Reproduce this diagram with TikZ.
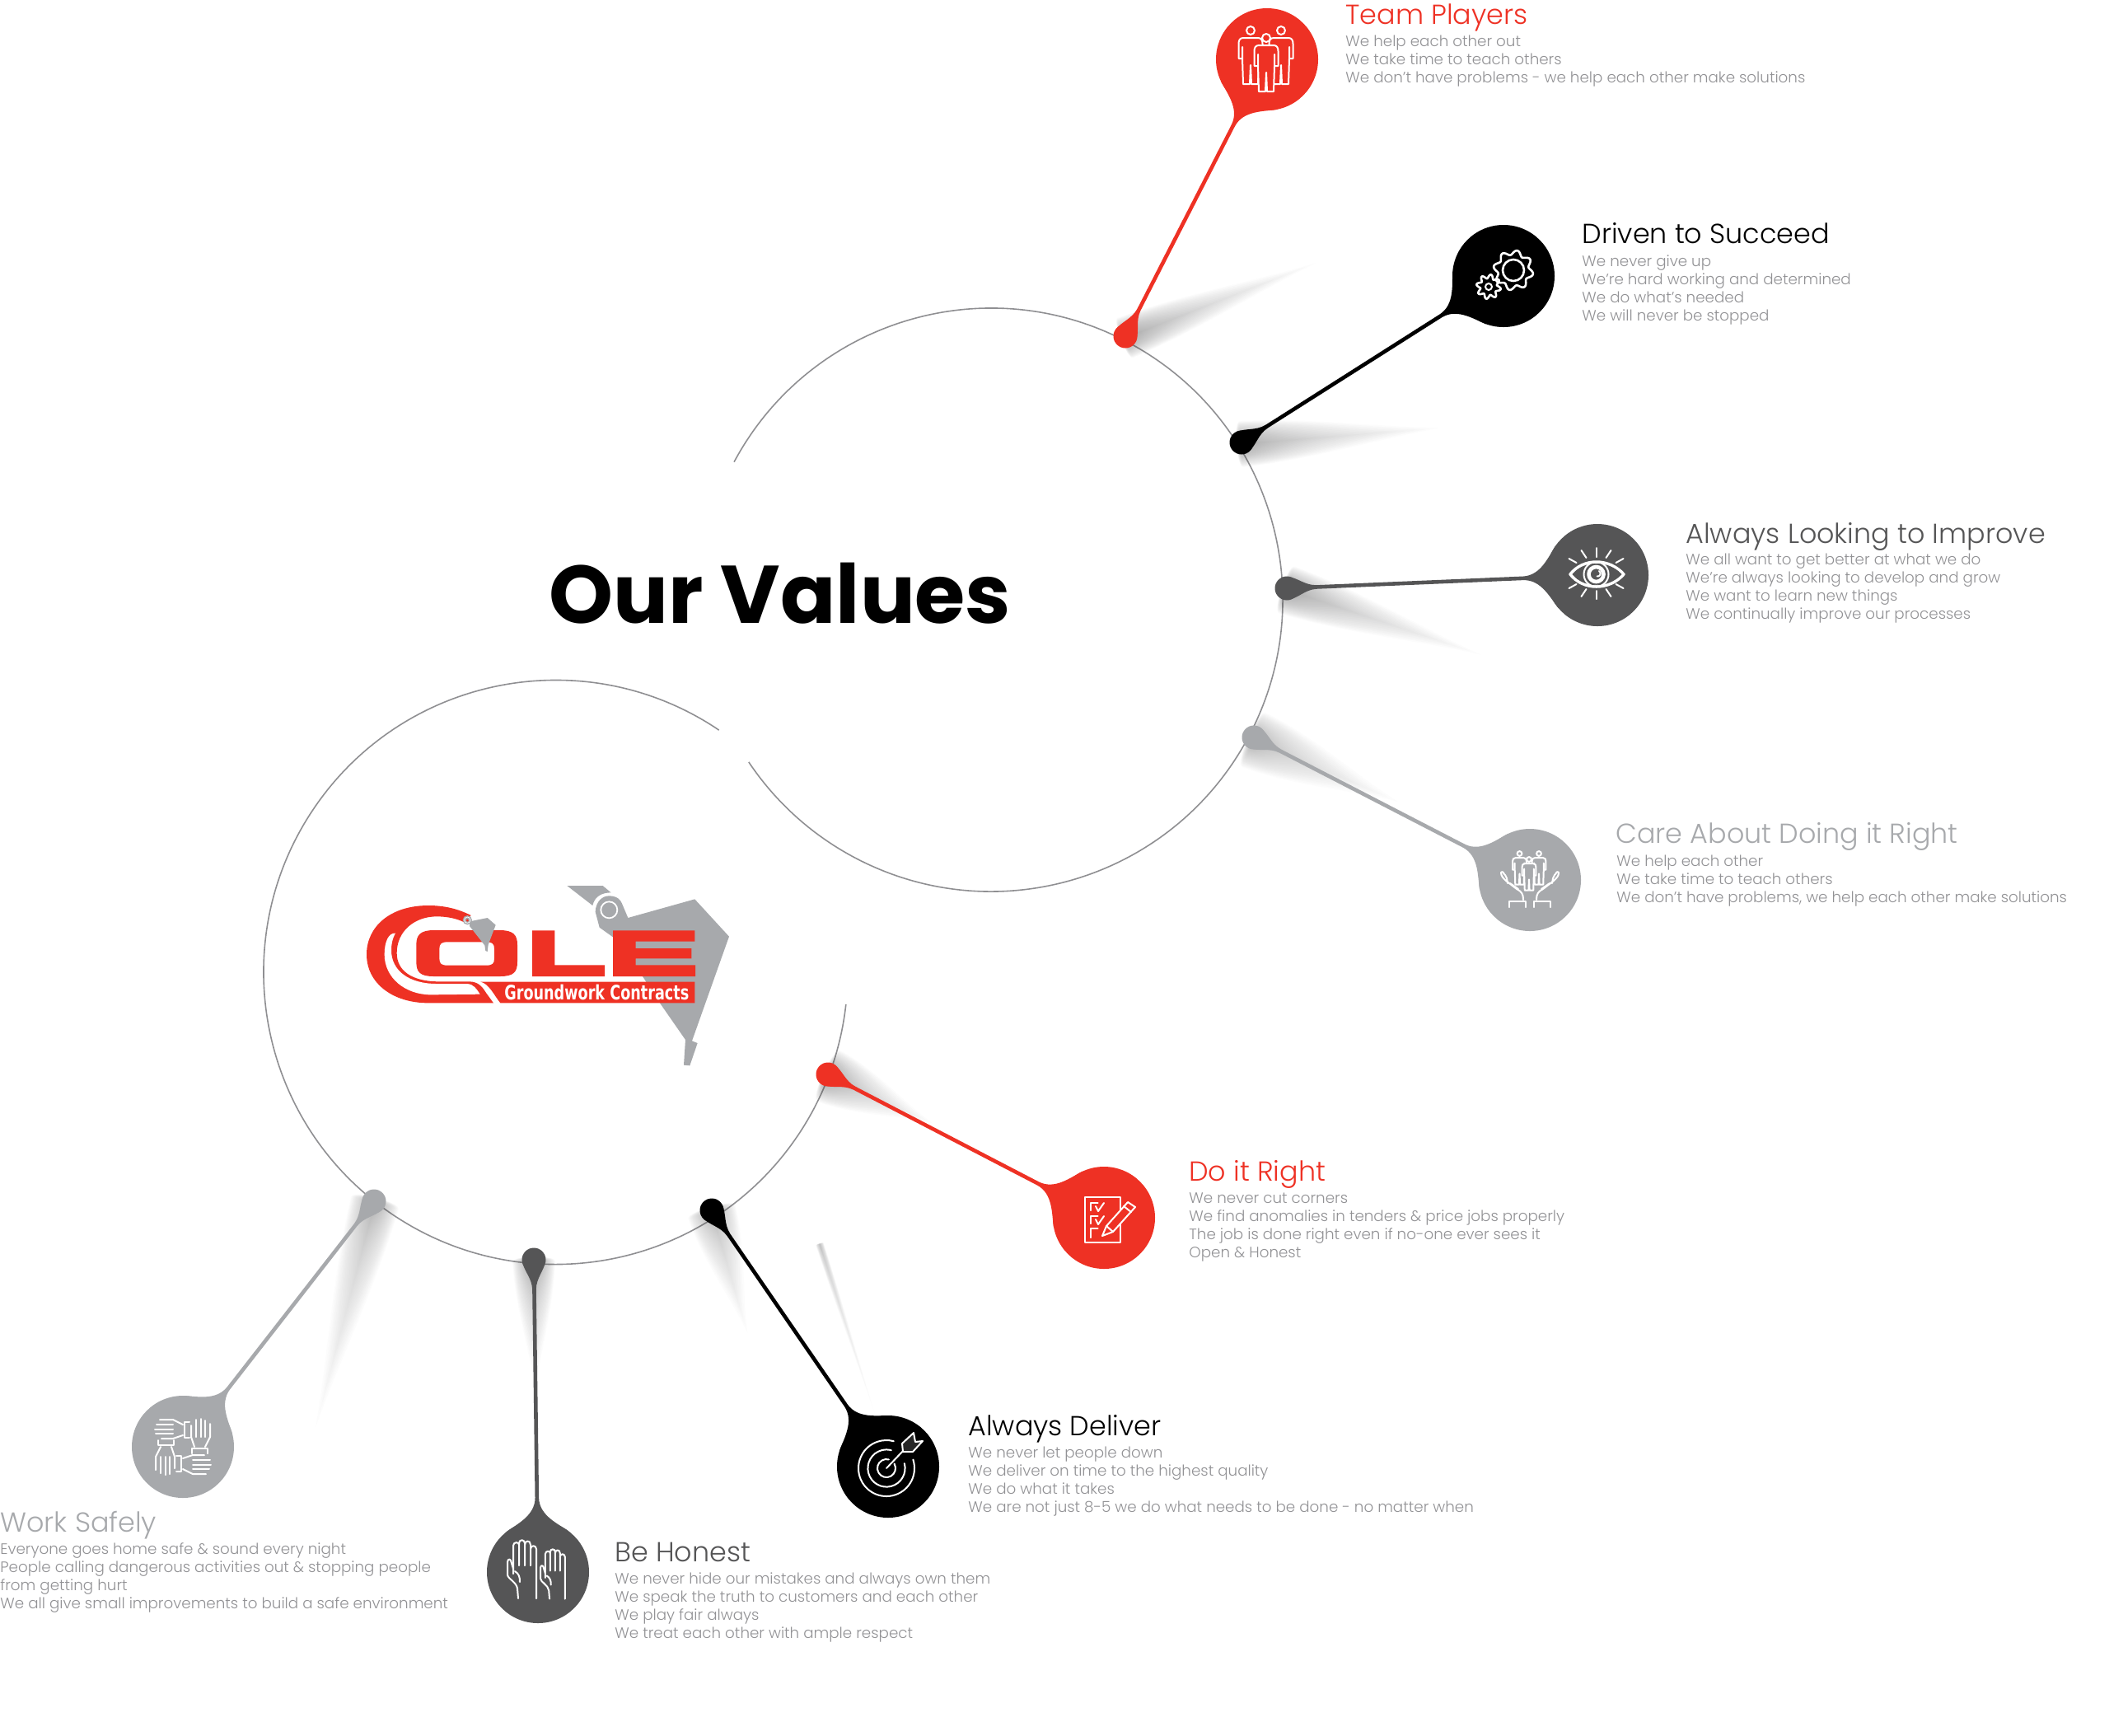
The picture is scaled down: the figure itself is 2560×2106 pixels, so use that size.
\documentclass[tikz,border=0pt]{standalone}
\usepackage{fontspec}
\usepackage{graphicx}
\newfontfamily\plight{Poppins Light}
\newfontfamily\pbold{Poppins Bold}
\newfontfamily\lsans{DejaVu Sans Bold}
\definecolor{cred}{HTML}{EE3124}
\definecolor{cdark}{HTML}{555556}
\definecolor{clight}{HTML}{A7A9AC}
\definecolor{ctext}{HTML}{929295}
\definecolor{cring}{HTML}{8F8F92}
\tikzset{
  headnode/.style={circle,inner sep=0pt,minimum size=62pt,fill=#1,draw=none},
  knobnode/.style={circle,inner sep=0pt,minimum size=14.5pt,fill=#1,draw=none},
  bodytxt/.style={anchor=north west,inner sep=0pt,align=left,text=ctext,font=\plight\fontsize{9.15}{10.95}\selectfont},
  headtxt/.style={anchor=base west,inner sep=0pt,text=#1,font=\plight\fontsize{16.7}{20}\selectfont},
  ring/.style={draw=cring,line width=0.8pt},
  icon/.style={draw=white,line width=1pt,line join=round,line cap=round},
}
% soft shadow streak
\newcommand{\streak}[6]{%
  \pgfmathsetmacro\sang{atan2(-(#4-#2),#3-#1)}%
  \pgfmathsetmacro\slen{veclen(#3-#1,#4-#2)}%
  \begin{scope}[shift={(#1,#2)},rotate=\sang]
  \foreach \i in {1,...,40}{
    \pgfmathsetmacro\ll{\slen*(\i/40)^2.4}%
    \pgfmathsetmacro\ww{#5*(\i/40)}%
    \pgfmathsetmacro\ss{\ww*.3}%
    \fill[cdark,opacity=#6] (0,\ww) .. controls (-\ss,\ww) and (-\ss,-\ww) .. (0,-\ww)
      .. controls ({\ll*.35+4},{-\ww*.9}) and ({\ll*.7+4},{-\ww*.25}) .. ({\ll+8},0)
      .. controls ({\ll*.7+4},{\ww*.25}) and ({\ll*.35+4},{\ww*.9}) .. (0,\ww) -- cycle;
  }
  \end{scope}
}
% tapered stem between a head node and a knob node
\newcommand{\stem}[3]{%
  \pgfmathanglebetweenpoints{\pgfpointanchor{#1}{center}}{\pgfpointanchor{#2}{center}}%
  \let\pang\pgfmathresult
  \pgfpointdiff{\pgfpointanchor{#1}{center}}{\pgfpointanchor{#2}{center}}%
  \pgfgetlastxy{\mx}{\my}%
  \pgfmathsetmacro\plen{veclen(\mx,\my)*2}%
  \begin{scope}[shift={(#1.center)},rotate=\pang]
  \fill[#3] (49,38) .. controls (58,26) and (68,2.6) .. (90,2.3)
     -- ({\plen-36},2.3) .. controls ({\plen-22},2.6) and ({\plen-14},12) .. ({\plen-2},14)
     -- ({\plen-2},-14) .. controls ({\plen-14},-12) and ({\plen-22},-2.6) .. ({\plen-36},-2.3)
     -- (90,-2.3) .. controls (68,-2.6) and (58,-26) .. (49,-38) -- cycle;
  \end{scope}
}
\newcommand{\person}[4]{% x y scale fill
  \begin{scope}[shift={(#1,#2)},scale=#3]
  \filldraw[icon,fill=#4] (0,0) circle (5);
  \filldraw[icon,fill=#4] (-9,9) -- (9,9) .. controls (13,9) and (14.5,12) .. (14.5,16) -- (14.5,34) -- (10,34) -- (10,20)
     -- (10,34) -- (9,65) -- (1,65) -- (0,42) -- (-1,65) -- (-9,65) -- (-10,34) -- (-10,20) -- (-10,34) -- (-14.5,34) -- (-14.5,16)
     .. controls (-14.5,12) and (-13,9) .. (-9,9) -- cycle;
  \end{scope}
}
\newcommand{\hand}[3]{% x y scale
  \begin{scope}[shift={(#1,#2)},scale=#3]
  \draw[icon] (35,70) -- (35,10) .. controls (35,5) and (28,5) .. (28,10) -- (28,30);
  \draw[icon] (28,10) -- (28,5) .. controls (28,-1) and (21,-1) .. (21,5) -- (21,30);
  \draw[icon] (21,5) -- (21,3) .. controls (21,-2) and (14,-2) .. (14,3) -- (14,30);
  \draw[icon] (14,5) .. controls (14,1) and (7,1) .. (7,6) -- (7,40);
  \draw[icon] (7,34) -- (4,24) .. controls (2,21) and (0,23) .. (0,27) -- (0,41) .. controls (0,46) and (11,50) .. (12,58) -- (13,70);
  \draw[icon] (9,37) .. controls (14,40) and (15,44) .. (15,50);
  \end{scope}
}
\newcommand{\onehand}{%
  \draw[icon] (11,8) -- (11,2) -- (30,2) -- (30,8);
  \draw[icon] (14,0) -- (10,-12) -- (10,-26);
  \draw[icon] (27,0) -- (33,-12) -- (33,-28);
  \draw[icon] (16,-12) -- (16,-33);
  \draw[icon] (21.5,-12) -- (21.5,-34);
  \draw[icon] (27,-12) -- (27,-32);
}
\begin{document}
\begin{tikzpicture}[x=0.5pt,y=-0.5pt]
\useasboundingbox (0,0) rectangle (2560,2106);
% rings
\coordinate (cA) at (1203,728);
\coordinate (cB) at (674.5,1180);
\draw[ring] (cA) ++(-151.8:354) arc[start angle=-151.8,end angle=146.2,radius=354];
\draw[ring] (cB) ++(-56:354.5) arc[start angle=-56,end angle=-353.7,radius=354.5];
% shadows
\streak{1366}{410}{1590}{322}{26}{.018}
\streak{1507}{539}{1740}{520}{28}{.019}
\streak{1562}{716}{1790}{792}{30}{.019}
\streak{1522}{898}{1690}{970}{36}{.014}
\streak{1006}{1306}{1125}{1360}{34}{.02}
\streak{864}{1471}{905}{1610}{30}{.016}
\streak{995}{1510}{1060}{1710}{5}{.01}
\streak{648}{1531}{650}{1680}{26}{.02}
\streak{455}{1460}{385}{1725}{30}{.014}
% nodes: heads and knobs
\node[headnode=cred]   (hTeam)  at (1538,72)   {};
\node[headnode=black]  (hDrive) at (1825,335)  {};
\node[headnode=cdark]  (hLook)  at (1939,698)  {};
\node[headnode=clight] (hCare)  at (1857,1068) {};
\node[headnode=cred]   (hRight) at (1340,1478) {};
\node[headnode=black]  (hDeliv) at (1078,1780) {};
\node[headnode=cdark]  (hHon)   at (653,1908)  {};
\node[headnode=clight] (hSafe)  at (222,1756)  {};
\node[knobnode=cred]   (kTeam)  at (1366,408)  {};
\node[knobnode=black]  (kDrive) at (1507,537)  {};
\node[knobnode=cdark]  (kLook)  at (1562,714)  {};
\node[knobnode=clight] (kCare)  at (1522,895)  {};
\node[knobnode=cred]   (kRight) at (1005,1304) {};
\node[knobnode=black]  (kDeliv) at (864,1469)  {};
\node[knobnode=cdark]  (kHon)   at (648,1529)  {};
\node[knobnode=clight] (kSafe)  at (454,1458)  {};
\stem{hTeam}{kTeam}{cred}
\stem{hDrive}{kDrive}{black}
\stem{hLook}{kLook}{cdark}
\stem{hCare}{kCare}{clight}
\stem{hRight}{kRight}{cred}
\stem{hDeliv}{kDeliv}{black}
\stem{hHon}{kHon}{cdark}
\stem{hSafe}{kSafe}{clight}
% --- icons ---
\begin{scope}[shift={(hTeam.center)}]
  \person{-20}{-35}{1}{cred}
  \person{17}{-35}{1}{cred}
  \person{-1}{-26}{1}{cred}
\end{scope}
\begin{scope}[shift={(hDrive.center)}]
  \draw[icon,line width=1.3pt] plot[domain=0:360,samples=121,smooth] ({12+(21.5+2.8*sin(8*\x))*cos(\x)},{-7+(21.5+2.8*sin(8*\x))*sin(\x)});
  \draw[icon,line width=1.3pt] (12,-7) circle (13);
  \draw[icon,line width=1.3pt] plot[domain=0:360,samples=121,smooth] ({-18+(12.5+2.4*sin(8*\x))*cos(\x)},{13+(12.5+2.4*sin(8*\x))*sin(\x)});
  \draw[icon] (-18,13) circle (4);
\end{scope}
\begin{scope}[shift={(hLook.center)}]
  \filldraw[icon,fill=white] (-34,-1) .. controls (-18,-22) and (15,-22) .. (33,-1) .. controls (15,20) and (-18,20) .. (-34,-1) -- cycle;
  \filldraw[icon,fill=cdark,draw=cdark,line width=.4pt] (-30,-1) .. controls (-16,-18) and (13,-18) .. (29,-1) .. controls (13,16) and (-16,16) .. (-30,-1) -- cycle;
  \draw[icon] (-1.5,-1) circle (15);
  \draw[icon,line width=2.3pt] (-1.5,-1) circle (9);
  \draw[icon] (2,-5) arc[start angle=-60,end angle=100,radius=3.5];
  \foreach \a/\b/\c/\d in {0/-33/0/-22,-18/-30/-12/-21,18/-30/12/-21,-33/-20/-24/-15,33/-20/24/-15,0/29/0/19,-18/26/-12/17,18/26/12/17,-33/16/-24/11,33/16/24/11}{
    \draw[icon] (\a-1.5,\b) -- (\c-1.5,\d);
  }
\end{scope}
\begin{scope}[shift={(hCare.center)}]
  \person{-12.5}{-32}{.58}{clight}
  \person{11}{-32}{.58}{clight}
  \person{-1}{-25}{.58}{clight}
  \foreach \s in {1,-1}{
    \begin{scope}[xscale=\s]
    \draw[icon] (-25,33) -- (-25,26) -- (-5,26) -- (-5,33);
    \draw[icon] (-8,24) .. controls (-8,17) and (-10,14) .. (-16,11) -- (-29,1) .. controls (-33,-3) and (-35,-5) .. (-35,-9) .. controls (-34,-11) and (-31,-9) .. (-31,-7) -- (-30,-6) -- (-28,-2) -- (-27,4);
    \draw[icon] (-24,4) -- (-14,11);
    \end{scope}
  }
\end{scope}
\begin{scope}[shift={(hRight.center)}]
  \draw[icon] (-23,-25) rectangle (20,30);
  \draw[icon] (-7.5,-18) -- (-16,-18) -- (-16,-9);
  \draw[icon] (-10,-14) -- (-7,-8) -- (0,-18);
  \draw[icon] (-7.5,-2) -- (-16,-2) -- (-16,7);
  \draw[icon] (-10,2) -- (-7,8) -- (0,-2);
  \draw[icon] (-7.5,13) -- (-16,13) -- (-16,24);
  \filldraw[icon,fill=cred] (-2,22) -- (3,10) -- (29,-19) -- (38,-13) -- (11,17) -- cycle;
  \draw[icon] (3,10) -- (11,17);
  \draw[icon] (24,-14) -- (33,-7);
\end{scope}
\begin{scope}[shift={(hDeliv.center)}]
  \draw[icon] (-2,2) ++(-18:34) arc[start angle=-18,end angle=285,radius=34];
  \draw[icon] (-2,2) ++(-15:22.6) arc[start angle=-15,end angle=285,radius=22.6];
  \draw[icon] (-2,2) ++(-30:11) arc[start angle=-30,end angle=285,radius=11];
  \draw[icon] (-2,2) -- (20,-21);
  \filldraw[icon,fill=black!85] (17,-28) -- (31,-41) -- (33,-30) -- (42,-31) -- (30,-18) -- (18,-18) -- cycle;
\end{scope}
\begin{scope}[shift={(hHon.center)}]
  \hand{-37}{-38}{1}
  \hand{3}{-27}{.85}
\end{scope}
\begin{scope}[shift={(hSafe.center)}]
  \foreach \r in {0,90,180,270}{
    \begin{scope}[rotate=\r]
    \onehand
    \end{scope}
  }
\end{scope}
% --- logo ---
\begin{scope}[shift={(400,1050)},scale=1/3]
  \fill[clight] (865,75) -- (995,75) -- (1025,100) .. controls (990,100) and (965,115) .. (958,147) -- cycle;
  \fill[clight] (968,170) .. controls (970,130) and (995,112) .. (1018,112) .. controls (1045,112) and (1060,125) .. (1065,140) -- (1087,192) -- (1330,124) -- (1455,260) -- (1320,640) -- (1340,648) -- (1312,730) -- (1290,728) -- (1296,636) -- (1205,505) -- (1140,405) -- (1032,262) -- (983,227) -- cycle;
  \draw[white,line width=.9pt] (1018,163) circle (30);
  \fill[cred] (738,238) -- (820,238) -- (820,364) -- (1002,364) -- (1002,405) -- (738,405) -- cycle;
  \fill[cred] (1032,238) -- (1330,238) -- (1330,278) -- (1115,278) -- (1115,303) -- (1318,303) -- (1318,340) -- (1115,340) -- (1115,364) -- (1332,364) -- (1332,405) -- (1032,405) -- cycle;
  \fill[cred] (550,425) -- (1330,425) -- (1330,502) -- (622,502) .. controls (600,475) and (580,430) .. (550,425) -- cycle;
  \fill[cred] (515,183) .. controls (470,160) and (420,147) .. (360,147) .. controls (220,147) and (135,225) .. (135,325) .. controls (135,430) and (230,502) .. (360,502) -- (597,502) -- (570,465) .. controls (555,440) and (540,425) .. (510,424) -- (400,424) .. controls (300,424) and (245,385) .. (245,320) .. controls (245,240) and (310,187) .. (390,187) .. controls (430,187) and (465,195) .. (490,208) -- cycle;
  \fill[cred,even odd rule] (380,237) -- (620,237) .. controls (670,237) and (684,255) .. (684,290) -- (684,352) .. controls (684,390) and (670,405) .. (620,405) -- (380,405) .. controls (330,405) and (316,390) .. (316,352) -- (316,290) .. controls (316,255) and (330,237) .. (380,237) -- cycle
    (430,280) -- (570,280) .. controls (592,280) and (600,285) .. (600,305) -- (600,340) .. controls (600,360) and (592,365) .. (570,365) -- (430,365) .. controls (408,365) and (400,360) .. (400,340) -- (400,305) .. controls (400,285) and (408,280) .. (430,280) -- cycle;
  \fill[white] (240,248) .. controls (215,245) and (200,280) .. (200,325) .. controls (200,410) and (275,472) .. (370,472) -- (548,470) .. controls (535,450) and (525,433) .. (500,432) -- (390,432) .. controls (290,432) and (225,385) .. (225,310) .. controls (225,285) and (230,265) .. (240,248) -- cycle;
  \fill[clight] (510,205) -- (575,192) -- (605,218) -- (578,290) -- (575,315) -- (568,312) -- (565,292) -- (510,222) -- cycle;
  \fill[clight] (502,200) circle (17);
  \draw[white,line width=.35pt] (502,200) circle (11);
  \fill[cred] (502,201) circle (5);
  \node[inner sep=0pt,text=white] (logoText) at (973,464) {\resizebox{112pt}{9.2pt}{\lsans Groundwork Contracts}};
\end{scope}
% --- texts ---
\node[inner sep=0pt,text=black,font=\pbold\fontsize{49.6}{55}\selectfont] (title) at (947,720) {Our Values};

\node[headtxt=cred] (tTeam) at (1633,29) {Team Players};
\node[bodytxt] (bTeam) at (1633,42.5) {We help each other out\\We take time to teach others\\We don’t have problems - we help each other make solutions};

\node[headtxt=black] (tDrive) at (1920,295) {Driven to Succeed};
\node[bodytxt] (bDrive) at (1920,309.5) {We never give up\\We’re hard working and determined\\We do what’s needed\\We will never be stopped};

\node[headtxt=cdark] (tLook) at (2046,659) {Always Looking to Improve};
\node[bodytxt] (bLook) at (2046,671.5) {We all want to get better at what we do\\We’re always looking to develop and grow\\We want to learn new things\\We continually improve our processes};

\node[headtxt=clight] (tCare) at (1961,1023) {Care About Doing it Right};
\node[bodytxt] (bCare) at (1962,1037.5) {We help each other\\We take time to teach others\\We don’t have problems, we help each other make solutions};

\node[headtxt=cred] (tRight) at (1443,1433) {Do it Right};
\node[bodytxt] (bRight) at (1443,1447.5) {We never cut corners\\We find anomalies in tenders \& price jobs properly\\The job is done right even if no-one ever sees it\\Open \& Honest};

\node[headtxt=black] (tDeliv) at (1175,1742) {Always Deliver};
\node[bodytxt] (bDeliv) at (1175,1755.5) {We never let people down\\We deliver on time to the highest quality\\We do what it takes\\We are not just 8-5 we do what needs to be done - no matter when};

\node[headtxt=cdark] (tHon) at (746,1895) {Be Honest};
\node[bodytxt] (bHon) at (746,1908.5) {We never hide our mistakes and always own them\\We speak the truth to customers and each other\\We play fair always\\We treat each other with ample respect};

\node[headtxt=clight] (tSafe) at (0,1859) {Work Safely};
\node[bodytxt] (bSafe) at (0,1872.5) {Everyone goes home safe \& sound every night\\People calling dangerous activities out \& stopping people\\from getting hurt\\We all give small improvements to build a safe environment};
\end{tikzpicture}
\end{document}
